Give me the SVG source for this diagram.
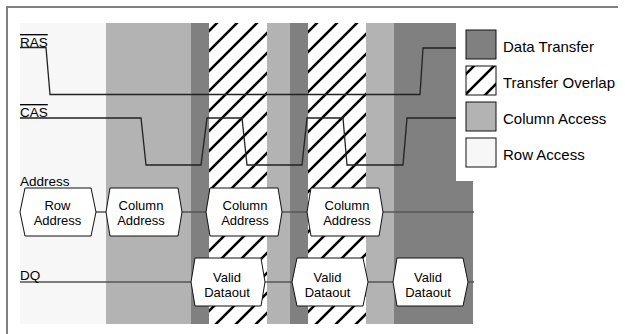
<svg xmlns="http://www.w3.org/2000/svg" width="625" height="334" viewBox="0 0 625 334">
<defs>
<pattern id="hatch" patternUnits="userSpaceOnUse" width="20" height="20">
<rect width="20" height="20" fill="#fff"/>
<path d="M0,20 L20,0 M-5,5 L5,-5 M15,25 L25,15" stroke="#000" stroke-width="2.6"/>
</pattern>
<style>
.row{fill:#f7f7f7}
.col{fill:#b3b3b3}
.dat{fill:#808080}
.ovl{fill:url(#hatch)}
.sig{fill:none;stroke:#222;stroke-width:1.3}
.bus{fill:none;stroke:#555;stroke-width:1.3}
.hex{fill:#fff;stroke:#111;stroke-width:1}
.lbl{font-family:"Liberation Sans",Arial,sans-serif;font-size:13.5px;fill:#000}
.htx{font-family:"Liberation Sans",Arial,sans-serif;font-size:13px;fill:#000;text-anchor:middle}
.ltx{font-family:"Liberation Sans",Arial,sans-serif;font-size:15px;fill:#000}
.sw{stroke:#111;stroke-width:1}
</style>
</defs>
<rect width="625" height="334" fill="#fff"/>
<path d="M7,334 V7 H618" fill="none" stroke="#808080" stroke-width="2"/>
<g id="phases">
<rect class="row" x="20" y="23" width="86" height="301"/>
<rect class="col" x="106" y="23" width="85" height="301"/>
<rect class="dat" x="191" y="23" width="18" height="301"/>
<rect class="ovl" x="209" y="23" width="58" height="301"/>
<rect class="col" x="267" y="23" width="23" height="301"/>
<rect class="dat" x="290" y="23" width="18" height="301"/>
<rect class="ovl" x="308" y="23" width="58" height="301"/>
<rect class="col" x="366" y="23" width="28" height="301"/>
<rect class="dat" x="394" y="23" width="79" height="301"/>
</g>
<g id="connectors">
<polyline class="sig" points="20,47.5 46,47.5 50,94.5 420,94.5 423,48 456,48"/>
<polyline class="sig" points="20,118 141,118 146,165 201,165 207,118 242,118 247,165 302,165 307,118 343,118 347,165 403,165 407,118 456,118"/>
<path class="bus" d="M96,212 H106 M182,212 H206 M282,212 H307 M383,212 H474 M20,282 H191 M265,282 H292 M368,282 H393 M468,282 H474"/>
</g>
<g id="signal-labels">
<text class="lbl" x="20" y="47" text-decoration="overline">RAS</text>
<text class="lbl" x="20" y="117" text-decoration="overline">CAS</text>
<text class="lbl" x="20" y="186">Address</text>
<text class="lbl" x="20" y="280">DQ</text>
</g>
<g id="row-address">
<polygon class="hex" points="20,212 25,188 91,188 96,212 91,236 25,236"/>
<text class="htx" x="57.5" y="210">Row</text>
<text class="htx" x="57.5" y="224.5">Address</text>
</g>
<g id="column-address-1">
<polygon class="hex" points="106,212 110,188 178,188 182,212 178,236 110,236"/>
<text class="htx" x="141" y="210">Column</text>
<text class="htx" x="141" y="224.5">Address</text>
</g>
<g id="column-address-2">
<polygon class="hex" points="206,212 210,188 278,188 282,212 278,236 210,236"/>
<text class="htx" x="245" y="210">Column</text>
<text class="htx" x="245" y="224.5">Address</text>
</g>
<g id="column-address-3">
<polygon class="hex" points="307,212 311,188 379,188 383,212 379,236 311,236"/>
<text class="htx" x="347" y="210">Column</text>
<text class="htx" x="347" y="224.5">Address</text>
</g>
<g id="valid-dataout-1">
<polygon class="hex" points="191,282 195,258 261,258 265,282 261,306 195,306"/>
<text class="htx" x="227" y="282">Valid</text>
<text class="htx" x="227" y="296.5">Dataout</text>
</g>
<g id="valid-dataout-2">
<polygon class="hex" points="292,282 297,258 363,258 368,282 363,306 297,306"/>
<text class="htx" x="327.5" y="282">Valid</text>
<text class="htx" x="327.5" y="296.5">Dataout</text>
</g>
<g id="valid-dataout-3">
<polygon class="hex" points="393,282 397,258 463,258 468,282 463,306 397,306"/>
<text class="htx" x="428" y="282">Valid</text>
<text class="htx" x="428" y="296.5">Dataout</text>
</g>
<g id="legend">
<rect x="456" y="23" width="169" height="158" fill="#fff"/>
<rect class="dat sw" x="466" y="30" width="30" height="29"/>
<rect class="ovl sw" x="466" y="66" width="30" height="29"/>
<rect class="col sw" x="466" y="102" width="30" height="29"/>
<rect class="row sw" x="466" y="138" width="30" height="29"/>
<text class="ltx" x="503" y="51.5">Data Transfer</text>
<text class="ltx" x="503" y="87.5">Transfer Overlap</text>
<text class="ltx" x="503" y="123.5">Column Access</text>
<text class="ltx" x="503" y="159.5">Row Access</text>
</g>
</svg>
